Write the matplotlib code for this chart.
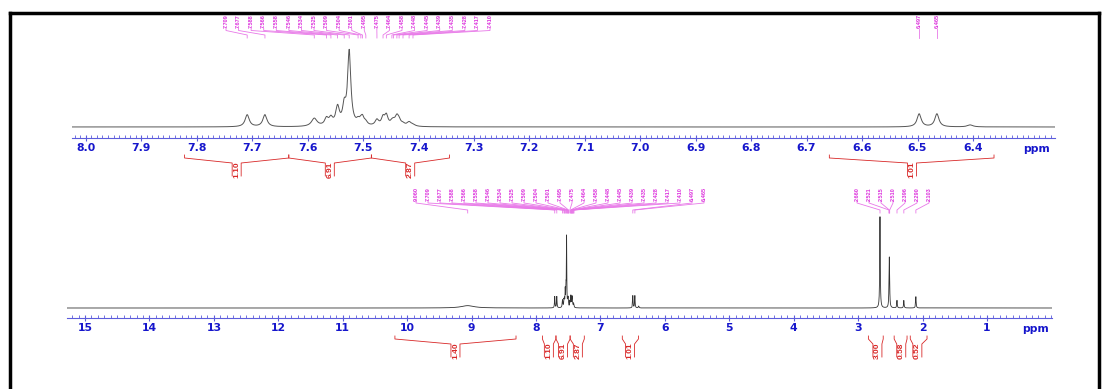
import matplotlib
matplotlib.use('Agg')
import matplotlib.pyplot as plt
from matplotlib.ticker import FixedLocator, AutoMinorLocator, FormatStrFormatter
import numpy as np

W, H = 1108, 389

# peak table: shift (ppm), height, half width (ppm)
shifts = [9.060, 7.709, 7.677, 7.588, 7.566, 7.558, 7.546, 7.534, 7.525, 7.509,
          7.504, 7.501, 7.495, 7.475, 7.464, 7.458, 7.448, 7.445, 7.439, 7.435,
          7.428, 7.417, 7.410, 6.497, 6.465, 6.405,
          2.660, 2.521, 2.515, 2.510, 2.396, 2.290, 2.103]
heights = [2.5, 12, 12, 8, 7, 7, 18, 17, 74, 4,
           3, 7, 3, 6, 8, 10, 3, 3, 9, 4,
           2, 4, 1.5, 13, 13, 2,
           97, 6, 50, 6, 8, 8, 12]
widths = [0.12, 0.0045, 0.0045, 0.006, 0.004, 0.004, 0.004, 0.0035, 0.0035, 0.0035,
          0.0035, 0.0035, 0.0035, 0.004, 0.0035, 0.0035, 0.0035, 0.0035, 0.004, 0.0035,
          0.004, 0.0045, 0.005, 0.0045, 0.0045, 0.006,
          0.005, 0.004, 0.005, 0.004, 0.005, 0.005, 0.005]

top_peak_labels = ['7.709', '7.677', '7.588', '7.566', '7.558', '7.546', '7.534', '7.525',
                   '7.509', '7.504', '7.501', '7.495', '7.475', '7.464', '7.458', '7.448',
                   '7.445', '7.439', '7.435', '7.428', '7.417', '7.410']
top_right_labels = ['6.497', '6.465']
bot_peak_labels = ['9.060'] + top_peak_labels + top_right_labels
bot_right_labels = ['2.660', '2.521', '2.515', '2.510', '2.396', '2.290', '2.103']

# integrals: (from, to, label position, value)
top_integrals = [(7.822, 7.634, 7.728, '1.10'), (7.634, 7.485, 7.560, '6.91'),
                 (7.485, 7.344, 7.415, '2.87'), (6.659, 6.362, 6.510, '1.01')]
bot_integrals = [(10.19, 8.31, 9.25, '1.40'), (7.90, 7.69, 7.80, '1.10'),
                 (7.69, 7.47, 7.58, '6.91'), (7.47, 7.25, 7.35, '2.87'),
                 (6.66, 6.41, 6.54, '1.01'), (2.84, 2.61, 2.70, '3.00'),
                 (2.44, 2.24, 2.33, '0.58'), (2.19, 1.93, 2.08, '0.52')]

top_ticks = [8.0, 7.9, 7.8, 7.7, 7.6, 7.5, 7.4, 7.3, 7.2, 7.1, 7.0, 6.9, 6.8, 6.7, 6.6, 6.5, 6.4]
bot_ticks = [15, 14, 13, 12, 11, 10, 9, 8, 7, 6, 5, 4, 3, 2, 1]

axis_blue = '#5c5cdc'
label_blue = '#1616cc'
magenta = '#dc30dc'
conn = '#e878e8'
red = '#d82828'
small_font = ['Liberation Sans', 'DejaVu Sans']


def spectrum(x):
    y = np.zeros_like(x)
    for s, h, w in zip(shifts, heights, widths):
        y += h / (1 + ((x - s) / w) ** 2)
    return y


fig = plt.figure(figsize=(W / 100, H / 100), dpi=100)


def make_axes(left, right, top, bottom, xl, xr, yb):
    ax = fig.add_axes([left / W, 1 - bottom / H, (right - left) / W, (bottom - top) / H])
    ax.set_xlim(xl, xr)
    ax.set_ylim(yb, yb + (bottom - top))
    for s in ['top', 'left', 'right']:
        ax.spines[s].set_visible(False)
    ax.spines['bottom'].set_color(axis_blue)
    ax.spines['bottom'].set_linewidth(0.8)
    ax.set_yticks([])
    ax.patch.set_alpha(0)
    ax.ppx = abs(xr - xl) / (right - left)
    ax.px0 = left
    return ax


def px2ppm(ax, px):
    return ax.get_xlim()[0] - (np.asarray(px) - ax.px0) * ax.ppx


def style_ticks(ax, ticks, fmt):
    ax.xaxis.set_major_locator(FixedLocator(ticks))
    ax.xaxis.set_minor_locator(AutoMinorLocator(10))
    ax.xaxis.set_major_formatter(FormatStrFormatter(fmt))
    ax.tick_params(axis='x', which='major', direction='inout', length=4, width=0.8,
                   color=axis_blue, labelcolor=label_blue, labelsize=7.8, pad=1.5)
    ax.tick_params(axis='x', which='minor', direction='in', length=2, width=0.6, color=axis_blue)
    for lab in ax.get_xticklabels():
        lab.set_fontweight('bold')


def peak_labels(ax, slots, peaks, labels, y_text, y_end):
    for xs, xp, lab in zip(slots, peaks, labels):
        ax.plot([xs, xs, xp, xp], [y_text, y_text - 2, y_end + 3, y_end],
                color=conn, lw=0.6, clip_on=False)
        ax.text(xs, y_text + 0.3, lab, rotation=90, ha='center', va='bottom',
                fontsize=4.0, fontweight='bold', color=magenta, family=small_font, clip_on=False)


def integrals(ax, items, y0):
    d = 4.5 * ax.ppx
    for x1, x2, xc, val in items:
        ax.plot([x1, x1, xc + d, xc + d], [y0, y0 - 3, y0 - 8, y0 - 21], color=red, lw=0.6, clip_on=False)
        ax.plot([x2, x2, xc - d, xc - d], [y0, y0 - 3, y0 - 8, y0 - 21], color=red, lw=0.6, clip_on=False)
        ax.text(xc, y0 - 14.5, val, rotation=90, ha='center', va='center', fontsize=6.0,
                fontweight='bold', color=red, family=small_font, clip_on=False)


# top panel: expansion 8.0 - 6.3 ppm
ax1 = make_axes(72, 1055, 38, 138, 8.025, 6.252, -11)
x1 = np.linspace(6.252, 8.025, 8000)
ax1.plot(x1, spectrum(x1), color='#555555', lw=0.7)
style_ticks(ax1, top_ticks, '%.1f')
ax1.text(6.286, -22, 'ppm', ha='center', va='center', fontsize=7.8, fontweight='bold', color=label_blue)
peak_labels(ax1, px2ppm(ax1, np.linspace(226, 490, len(top_peak_labels))),
            [float(v) for v in top_peak_labels], top_peak_labels, 98.5, 89)
peak_labels(ax1, [float(v) for v in top_right_labels],
            [float(v) for v in top_right_labels], top_right_labels, 98.5, 89)
integrals(ax1, top_integrals, -28)

# bottom panel: full spectrum
ax2 = make_axes(67, 1052, 213, 318, 15.28, -0.01, -10)
x2 = np.linspace(-0.01, 15.28, 80000)
ax2.plot(x2, 0.94 * spectrum(x2), color='#333333', lw=0.6)
style_ticks(ax2, bot_ticks, '%d')
ax2.text(0.25, -21, 'ppm', ha='center', va='center', fontsize=7.8, fontweight='bold', color=label_blue)
peak_labels(ax2, px2ppm(ax2, np.linspace(416, 704, len(bot_peak_labels))),
            [float(v) for v in bot_peak_labels], bot_peak_labels, 107, 95)
peak_labels(ax2, px2ppm(ax2, np.linspace(857, 929, len(bot_right_labels))),
            [float(v) for v in bot_right_labels], bot_right_labels, 107, 95)
integrals(ax2, bot_integrals, -28)

# page frame
for xs, ys in [([10, 10], [389, 13]), ([10, 1099], [13, 13]), ([1099, 1099], [13, 389])]:
    fig.add_artist(plt.Line2D([x / W for x in xs], [1 - y / H for y in ys],
                              transform=fig.transFigure, color='black', lw=2.5))

fig.savefig('out.png', dpi=100)
